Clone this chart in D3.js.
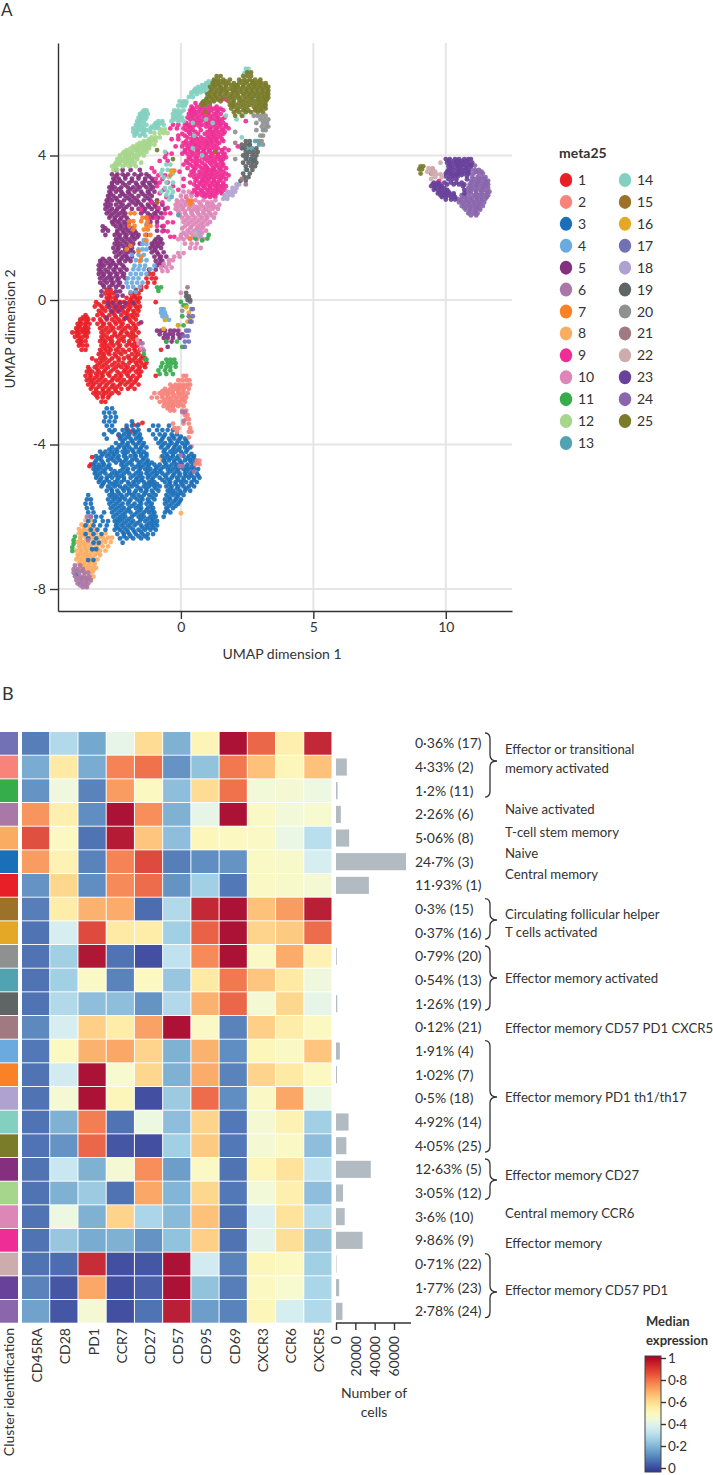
<!DOCTYPE html>
<html>
<head>
<meta charset="utf-8">
<script src="https://cdnjs.cloudflare.com/ajax/libs/d3/7.8.5/d3.min.js"></script>
<style>
body { margin: 0; background: #fff; }
text { font-family: Lato, "Open Sans", sans-serif; fill: #333; }
</style>
</head>
<body>
<script>
// ---- panel A: meta25 clusters, colours as in the legend
const clusterIds = d3.range(1, 26);
const clusterColors = ["#e81f27","#f7837b","#1a6fb9","#6aaade","#84307f","#aa78a6","#f98126","#fbac63","#ee2e96","#dd87b9","#34ad4a","#a6d68c","#52a3b2","#83d0c0","#9c7128","#e5a826","#7371b6","#b0a2d0","#5f6464","#8f9090","#a07a80","#cdacae","#68419a","#8a66ad","#7a7c2a"];
const xTicks = [0, 5, 10];
const yTicks = [-8, -4, 0, 4];

// points, one row per line: [umap2, umap1, umap1, ...]
const cluster1 = [
[0.72,-1.2,-1.05],[0.6,-1.3,-1.1,-0.95],[0.48,-1.25,-1.0],[0.36,-1.5,-1.3],[0.28,-2.8,-2.65,-1.7,-1.5],
[0.18,-2.85,-2.7,-2.55,-1.9,-1.75,-1.6],[0.06,-2.8,-2.65,-2.5,-2.05,-1.85,-1.7,-1.55],[-0.06,-3.2,-2.9,-2.6,-2.3,-2.15,-1.95,-1.8,-1.6,-0.95],
[-0.18,-3.25,-3,-2.8,-2.55,-2.3,-2.1,-1.9,-1.7,-1.55],[-0.3,-3.1,-2.85,-2.65,-2.4,-2.2,-2,-1.8,-1.6],[-0.42,-3.6,-3.15,-2.95,-2.7,-2.5,-2.25,-2,-1.85,-1.65],
[-0.54,-3.8,-3.65,-3.5,-3.3,-3.05,-2.8,-2.6,-2.35,-2.15,-1.95,-1.7],[-0.66,-3.9,-3.75,-3.6,-3.45,-3.15,-2.9,-2.7,-2.45,-2.2,-1.8,-1.6],[-0.78,-3.95,-3.8,-3.65,-3.5,-3.05,-2.8,-2.55,-2.35,-2.1,-1.9,-1.7],
[-0.9,-4.1,-3.95,-3.8,-3.65,-3.5,-3,-2.75,-2.5,-2.25,-2.05,-1.85,-1.6],[-1.02,-4,-3.85,-3.7,-3.55,-3,-2.8,-2.6,-2.4,-2.15,-1.9,-1.7],[-1.14,-3.9,-3.75,-3.6,-3.05,-2.85,-2.6,-2.35,-2.15,-1.95,-1.7,-1.55],
[-1.26,-3.85,-3.7,-3.55,-3,-2.8,-2.55,-2.3,-2.05,-1.85,-1.65],[-1.38,-3.75,-3.6,-3.05,-2.85,-2.65,-2.45,-2.2,-1.95,-1.75,-1.55,-0.75],[-1.5,-3.1,-2.9,-2.7,-2.5,-2.25,-1.85,-1.6],
[-1.62,-3.35,-3.05,-2.85,-2.6,-2.35,-2.15,-1.95,-1.75,-1.5,-1.35],[-1.74,-3.05,-2.8,-2.5,-2.2,-1.95,-1.7,-1.5,-1.3],[-1.86,-3.5,-3.25,-3,-2.75,-2.45,-2.25,-2,-1.8,-1.55,-1.35],
[-1.98,-3.55,-3.35,-3.1,-2.9,-2.65,-2.4,-2.15,-1.95,-1.7,-1.5],[-2.1,-3.6,-3.4,-3.15,-2.95,-2.7,-2.45,-2.25,-2,-1.8,-1.55,-0.95],[-2.22,-3.55,-3.35,-3.1,-2.85,-2.6,-2.4,-2.15,-1.9,-1.7],
[-2.34,-3.5,-3.3,-3.05,-2.8,-2.55,-2.3,-2.1,-1.85,-1.6],[-2.46,-3.4,-3.2,-2.95,-2.7,-2.5,-2.25,-2,-1.75],[-2.58,-3.3,-3.1,-2.85,-2.6,-2.35],
[-2.7,-3.15,-2.95,-2.75],[-2.82,-3,-2.85],[-3.55,-2.05],[-3.45,-1.8,-1.6],[-3.65,-1.9,-1.75],[-3.75,-2.35],[-4.35,-3.35],[-4.55,-3.4],[-4.6,-3.45],[-3.4,-1.45],
[0.12,-2.7,-1.75],[0,-2.75,-2.45,-1.9,-1.65],[-0.12,-3.1,-2.7,-2.4,-2,-1.75],[-0.24,-2.95,-2.5,-2.3,-1.95,-1.65],[-0.36,-3,-2.55,-2.1,-1.75],[-0.48,-3.7,-3.55,-2.85,-2.45,-2.05,-1.8],[-0.6,-3.8,-3.55,-3,-2.5,-2.3,-1.9],[-0.72,-3.85,-3.6,-2.95,-2.65,-2.25,-2,-1.75],
[-0.84,-3.9,-3.7,-3.55,-2.9,-2.65,-2.2,-1.75],[-0.96,-3.9,-3.6,-2.9,-2.5,-2.3,-2,-1.8],[-1.08,-3.8,-2.95,-2.7,-2.25,-1.8],[-1.2,-3.8,-2.9,-2.65,-2.4,-1.95,-1.75],[-1.32,-2.9,-2.7,-2.35,-1.75],[-1.44,-3,-2.75,-2.35,-2.1,-1.7],[-1.56,-2.95,-2.45,-2,-1.7,-1.45],[-1.68,-3.2,-2.95,-2.7,-2.35,-1.85,-1.6],
[-1.8,-3.15,-2.9,-2.6,-2.35,-2.1,-1.65,-1.4],[-1.92,-3.45,-3.15,-2.85,-2.55,-2.1,-1.85,-1.6],[-2.04,-3.45,-3.2,-3,-2.75,-2.3,-2.05,-1.6],[-2.16,-3.45,-3.25,-3,-2.55,-2.3,-1.9,-1.65],[-2.28,-3.4,-3.2,-2.95,-2.7,-2.25,-2,-1.75],[-2.4,-3.35,-3.1,-2.85,-2.6,-2.4,-1.9],[-2.52,-3.2,-2.95,-2.75,-2.45],[-2.64,-3.2,-2.95,-2.7]
];
const cluster2 = [
[-2.1,0.1,0.2],[-2.22,-0.1,0.05,0.2,0.32],[-2.34,-0.4,-0.2,-0.05,0.1,0.25,0.35],[-2.46,-0.6,-0.4,-0.2,-0.05,0.1,0.3],[-2.58,-1,-0.8,-0.6,-0.45,-0.3,-0.1,0.05,0.25],
[-2.7,-1.1,-0.9,-0.7,-0.5,-0.35,-0.15,0.05,0.2],[-2.82,-0.8,-0.65,-0.45,-0.3,-0.1,0.15],[-2.94,-0.65,-0.45,-0.3,-0.1,0.1],[-3.06,-0.4,-0.25,0.05,0.2],[-3.18,0.15,0.25],
[-3.3,0.2,0.3],[-3.42,-0.3,0.1,0.3],[-3.55,-0.25,-0.1,0.35],[-3.65,-0.15,0.3,0.4],[-3.8,0.3],[-4.45,0.6,0.7],[-4.55,0.55,0.7],
[-2.4,-0.3,-0.1,0.05,0.2],[-2.52,-0.7,-0.5,-0.3,-0.1,0.1],[-2.64,-0.7,-0.5,-0.25,-0.05,0.15],[-2.76,-0.6,-0.4,-0.2,0,0.1],[-2.88,-0.55,-0.35,-0.2,0],[-3,-0.5,-0.3]
];
const cluster3 = [
[-3,-2.8,-2.6],[-3.12,-2.9,-2.7,-2.5],[-3.24,-2.85,-2.65,-2.45],[-3.36,-2.9,-2.7,-2.5,-1.85],[-3.48,-2.8,-2.6,-2.05,-1.85,-1.65,-1.05,-0.85,-0.45],
[-3.6,-2.7,-2.5,-2.2,-2,-1.8,-1.6,-1.2,-0.9,-0.7,-0.5,-0.3],[-3.72,-2.9,-2.35,-2.15,-1.95,-1.75,-1.55,-1.05,-0.8,-0.6,-0.35,-0.15],[-3.84,-2.8,-2.3,-2.1,-1.9,-1.7,-1.5,-0.95,-0.7,-0.45,-0.25,-0.05,0.15],
[-3.96,-2.45,-2.2,-2,-1.8,-1.6,-1.4,-0.85,-0.6,-0.35,-0.15,0.05,0.25],[-4.08,-2.6,-2.35,-2.15,-1.95,-1.7,-1.5,-1.3,-0.75,-0.5,-0.25,-0.05,0.15,0.35],[-4.2,-3.05,-2.85,-2.6,-2.4,-2.2,-2,-1.8,-1.6,-1.4,-0.65,-0.4,-0.2,0,0.2],
[-4.32,-3.2,-3,-2.8,-2.55,-2.35,-2.15,-1.9,-1.7,-1.5,-1.3,-0.7,-0.5,-0.3,-0.1,0.1,0.3,0.5],[-4.44,-3.2,-3,-2.75,-2.55,-2.3,-2.1,-1.85,-1.65,-1.45,-1.25,-0.65,-0.45,-0.25,-0.05,0.15,0.35,0.55],
[-4.56,-3.3,-3.1,-2.9,-2.7,-2.25,-2.05,-1.85,-1.6,-1.4,-1.2,-1,-0.8,-0.55,-0.35,-0.15,0.05,0.25,0.5],[-4.68,-3.3,-3.1,-2.85,-2.65,-2.2,-2,-1.8,-1.55,-1.35,-1.15,-0.95,-0.75,-0.5,-0.3,-0.1,0.1,0.3,0.5,0.65],
[-4.8,-3.25,-3.05,-2.85,-2.6,-2.4,-2.15,-1.95,-1.7,-1.5,-1.3,-1.1,-0.9,-0.7,-0.5,-0.25,-0.05,0.15,0.35,0.6],[-4.92,-3.2,-3,-2.8,-2.6,-2.35,-2.15,-1.9,-1.65,-1.45,-1.25,-1.05,-0.8,-0.55,-0.35,-0.15,0.1,0.3,0.5,0.7],
[-5.04,-3.1,-2.9,-2.7,-2.5,-2.25,-2,-1.8,-1.6,-1.4,-1.2,-1,-0.6,-0.4,-0.2,0,0.2,0.4,0.6],[-5.16,-3,-2.75,-2.5,-2.3,-2.1,-1.85,-1.65,-1.4,-1.2,-1,-0.8,-0.55,-0.35,-0.1,0.1,0.3,0.5],
[-5.28,-2.8,-2.6,-2.4,-2.15,-1.95,-1.7,-1.5,-1.3,-1.1,-0.85,-0.5,-0.3,-0.05,0.15,0.35],[-5.4,-3.5,-2.7,-2.5,-2.25,-2.05,-1.85,-1.6,-1.4,-1.2,-0.95,-0.55,-0.3,-0.1,0.1],
[-5.52,-3.55,-3.4,-2.75,-2.5,-2.3,-2.1,-1.9,-1.65,-1.45,-1.25,-1,-0.6,-0.4,-0.2,0],[-5.64,-3.6,-3.4,-2.7,-2.45,-2.2,-2,-1.75,-1.5,-1.3,-1.1,-0.6,-0.35,-0.1],
[-5.76,-3.55,-3.35,-2.65,-2.4,-2.15,-1.95,-1.7,-1.5,-1.25,-1.05,-0.55,-0.3],[-5.88,-3.5,-3.3,-2.9,-2.6,-2.35,-2.1,-1.9,-1.65,-1.4,-1.2,-1,-0.6,-0.4],
[-6,-3.4,-3.2,-3,-2.55,-2.3,-2.1,-1.85,-1.6,-1.4,-1.15,-0.95,-0.65],[-6.12,-3.5,-3.25,-2.95,-2.75,-2.5,-2.3,-2.05,-1.8,-1.55,-1.35,-1.1,-0.9],[-6.24,-3.6,-3.3,-3.05,-2.8,-2.45,-2.25,-2,-1.75,-1.5,-1.3,-1.1,-0.9],
[-6.36,-3.4,-3.15,-2.85,-2.5,-2.3,-2.05,-1.8,-1.6,-1.35,-1.15,-0.95],[-6.48,-3.6,-3.3,-3,-2.4,-2.15,-1.95,-1.7,-1.45,-1.25,-1.05],[-6.6,-3.5,-3.2,-2.3,-2.05,-1.8,-1.5,-1.25],
[-6.72,-3.3,-3.1,-2.2],[-6.9,-3.35,-3.2],[-7.2,-3.5,-3.3],[-7.6,-3.95],
[-3.66,-2.6,-2.05,-1.7],[-3.78,-2.25,-2,-1.6,-0.65,-0.3,0],[-3.9,-2.2,-1.85,-1.55,-0.75,-0.4,-0.1,0.2],[-4.02,-2.3,-2.05,-1.7,-1.45,-0.7,-0.45,-0.2,0.15],[-4.14,-2.7,-2.45,-2.1,-1.85,-1.55,-0.6,-0.3,-0.1,0.25],[-4.26,-2.95,-2.7,-2.5,-2.1,-1.75,-1.5,-1.3,-0.55,-0.3,0.05,0.4],
[-4.38,-3.1,-2.65,-2.4,-2.05,-1.75,-1.4,-0.6,-0.4,-0.15,0.25,0.45],[-4.5,-3.25,-2.95,-2.45,-2.2,-1.95,-1.55,-1.3,-1.1,-0.6,-0.25,0,0.4,0.6],[-4.62,-3.2,-3,-2.75,-2.15,-1.7,-1.5,-1.25,-0.9,-0.65,-0.45,-0.2,0,0.2,0.4],[-4.74,-3.2,-2.95,-2.5,-2.3,-2.05,-1.6,-1.25,-1,-0.8,-0.4,-0.15,0.2,0.45],
[-4.86,-3.15,-2.7,-2.45,-2.25,-1.8,-1.55,-1.2,-0.95,-0.6,-0.3,-0.05,0.2,0.4,0.65],[-4.98,-3.05,-2.8,-2.4,-2.15,-1.7,-1.5,-1.1,-0.7,-0.45,-0.1,0.1,0.5],[-5.1,-2.95,-2.6,-2.4,-1.95,-1.75,-1.3,-1.1,-0.9,-0.45,-0.2,0.05,0.4],[-5.22,-2.65,-2.2,-2,-1.55,-1.3,-0.95,-0.4,-0.15,0.2],[-5.34,-2.6,-2.35,-1.95,-1.75,-1.35,-1.05,-0.4,-0.2,0],
[-5.46,-2.6,-2.4,-2.2,-1.75,-1.5,-1.1,-0.45,-0.15],[-5.58,-2.6,-2.35,-1.95,-1.55,-1.2,-0.5,-0.25,-0.05],[-5.7,-2.55,-2.3,-1.85,-1.6,-1.15,-0.45,-0.2],[-5.82,-2.5,-2.25,-2,-1.55,-1.3,-1.1,-0.5],[-5.94,-2.45,-2.2,-1.75,-1.5,-1.05],[-6.06,-2.4,-2.2,-1.95,-1.5,-1.25,-1.05],[-6.18,-2.4,-2.15,-1.9,-1.65,-1.2,-1],[-6.3,-2.4,-2.15,-1.9,-1.45,-1.25,-1.05],[-6.42,-2.2,-2,-1.75,-1.5],[-6.54,-2.15,-1.9,-1.6,-1.35]
];
const cluster4 = [
[1.66,-1.4],[1.55,-1.45,-1.3],[1.4,-1.6,-1.45,-1.3],[1.25,-1.85,-1.6,-1.4],[1.1,-1.7,-1.5,-1.3],[0.95,-1.75,-1.55,-1.35,-1],[0.85,-1.8,-1.6,-1.4,-1.15],[0.72,-1.9,-1.7,-1.5,-1.3],
[0.6,-2,-1.8,-1.6],[0.48,-2.05,-1.85,-1.65,-1.45],[0.36,-2,-1.8,-1.55],[0.22,-1.9,-1.7],[-0.25,-0.75,-0.65],[-0.35,-0.75,-0.6],[-0.45,-0.7,-0.55],[-0.55,-0.6,-0.45],[2.1,-1.3],[2.85,-0.35]
];
const cluster5 = [
[3.6,-2.45,-2.2,-1.9,-1.55],[3.48,-2.6,-2.4,-2.2,-2,-1.75,-1.5,-1.3],[3.36,-2.55,-2.35,-2.1,-1.85,-1.6,-1.35,-1.1],[3.24,-2.6,-2.4,-2.2,-1.95,-1.7,-1.45,-1.2,-0.95],[3.12,-2.7,-2.5,-2.25,-2,-1.8,-1.55,-1.3,-1.05],
[3,-2.7,-2.45,-2.25,-2,-1.75,-1.5,-1.25,-1],[2.88,-2.75,-2.55,-2.3,-2.1,-1.85,-1.6,-1.35,-1.1],[2.76,-2.8,-2.6,-2.4,-2.15,-1.9,-1.65,-1.4,-1.15,-0.9],[2.64,-2.85,-2.65,-2.45,-2.2,-1.95,-1.7,-1.5,-1.25,-1,-0.7],
[2.52,-2.85,-2.6,-2.4,-2.15,-1.85,-1.6,-1.35,-1.1,-0.85,-0.6],[2.4,-2.8,-2.55,-2.3,-2.1,-1.5,-1.25,-1,-0.75],[2.28,-2.7,-2.5,-2.25,-2.05,-1.3,-1.05,-0.85],[2.16,-2.6,-2.4,-2.15,-1.95,-1.15,-0.9],
[2.04,-2.95,-2.45,-2.25,-2,-0.7],[1.92,-2.95,-2.75,-2.4,-2.2,-2,-1.75,-0.9,-0.65],[1.8,-2.85,-2.5,-2.3,-2.05,-1.8,-1.6,-1.3],[1.68,-2.45,-2.25,-2,-1.75,-0.95,-0.75],[1.56,-2.5,-2.3,-2.05,-1.8,-1.55,-1.1,-0.9,-0.7],
[1.44,-2.55,-2.35,-2.1,-1.85,-1.15,-0.95,-0.75],[1.32,-2.5,-2.25,-2,-1.8,-1.1,-0.9,-0.65],[1.2,-2.45,-2.2,-2.05,-1.85,-1.0,-0.75,-0.55],[1.08,-3.05,-2.85,-2.6,-2.35,-2.1,-1.9,-0.95,-0.7],[0.96,-3.1,-2.9,-2.65,-2.45,-2.2,-0.9,-0.7],
[0.84,-3.1,-2.85,-2.55,-2.3,-2.05,-1.2,-0.95],[0.72,-3.1,-2.9,-2.65,-2.4,-2.15],[0.6,-3.05,-2.8,-2.6,-2.35,-2.1],[0.48,-3.05,-2.8,-2.55,-2.3],[0.36,-2.9,-2.7,-2.45,-2.2],[0.24,-3,-2.45,-2.3],[0.12,-3,-2.4,-2.2],
[-0.08,-2.75,-2.55,-2.3,-2.1,-1.8],[-0.2,-2.7,-2.45,-2.2],[-0.32,-2.6,-2.35],[-0.5,-2.8,-2.1],[-0.62,-1.5],[-0.85,-0.9,-0.75,-0.6,-0.4,-0.25,-0.1],[-0.95,-0.8,-0.6,-0.45,-0.3,-0.1,0.05],[-1.05,-0.65,-0.5,-0.3,-0.05],[-1.15,-0.55,-0.35],[-1.3,-0.5],
[3.42,-2.45,-2.1,-1.6,-1.2],[3.3,-2.5,-2.3,-1.85,-1.35,-1.05],[3.18,-2.6,-2.1,-1.65,-1.4,-1.15],[3.06,-2.6,-2.35,-1.9,-1.65,-1.15],[2.94,-2.65,-2.2,-1.95,-1.45,-1.2],[2.82,-2.7,-2.45,-2,-1.75,-1.25],[2.7,-2.75,-2.3,-1.8,-1.6,-1.1],[2.58,-2.75,-2.3,-2.05,-1.45,-1.2,-0.95],[2.46,-2.7,-2.45,-2.2,-1.4,-0.9],[2.34,-2.65,-2.4,-2.15,-1.15,-0.95],[2.22,-2.5,-2.3,-2,-1.2],
[2.1,-2.55,-2.3,-2.1],[1.98,-2.85,-2.3,-2.1,-1.85],[1.86,-2.4,-2.15,-1.9,-1.7],[1.74,-2.35,-2.1,-1.85,-1.65,-0.85],[1.62,-2.4,-2.15,-1.9,-1.0,-0.8],[1.5,-2.4,-2.2,-1.95,-1.05,-0.85],[1.38,-2.4,-2.1,-1.9,-1],[1.26,-2.35,-2.1,-0.85],[1.14,-2.95,-2.7,-2.25,-2,-0.8],[1.02,-3,-2.75,-2.55,-2.3,-0.8],[0.9,-3,-2.7,-2.45,-2.15],[0.78,-3,-2.75,-2.5,-2.25],[0.66,-2.95,-2.7,-2.45,-2.2],[0.54,-2.9,-2.65,-2.4],[0.42,-2.95,-2.6,-2.35]
];
const cluster6 = [
[-7.35,-4,-3.8],[-7.45,-4.05,-3.9,-3.7],[-7.55,-4.05,-3.85,-3.65,-3.5],[-7.65,-4,-3.8,-3.65,-3.45],[-7.75,-3.95,-3.75,-3.55,-3.4],[-7.85,-3.9,-3.7,-3.5],[-7.95,-3.7,-3.55],
[-6,-3.55,-3.4],[-6.65,-3.5],[-4.3,0],[-4.6,-0.05,0.05],[-4.75,0.5],[-1.2,-1.5,-1.45],[-1.4,-1.4],[-3.1,0.05,0.15],[-3.35,0.1],
[-7.5,-3.95,-3.75],[-7.7,-3.85,-3.7,-3.55],[-7.8,-3.8,-3.6],[-7.9,-3.8,-3.6]
];
const cluster7 = [
[2.4,-1.9,-1.75],[2.28,-1.45,-1.3],[2.18,-1.95,-1.8,-1.5,-1.25],[2.05,-1.95,-1.75,-1.3,-1.15],[1.95,-1.8,-1.4,-1.25],[1.8,-1.35,-1.15],[1.65,-1.3],[1.08,-1.55],[1.5,-1.9],[1.4,-2.05],[3.58,-0.35,-0.25],[3.45,-0.4],[2.75,0.3,0.4],[2.65,0.35],[1.7,0.35],[1.35,-1.6],[1.2,-1.5]
];
const cluster8 = [
[-6.1,-3.6,-3.4],[-6.22,-3.75,-3.55,-3.35],[-6.34,-3.85,-3.65,-3.45,-3.25],[-6.46,-3.85,-3.7,-3.5,-3.2,-2.85],[-6.58,-3.8,-3.6,-3.4,-3.1,-2.95,-2.75,-2.6],[-6.7,-3.9,-3.7,-3.5,-3.25,-3,-2.85,-2.65],[-6.82,-3.85,-3.65,-3.45,-3.2,-2.95,-2.75],[-6.94,-3.95,-3.75,-3.55,-3.3,-3.05,-2.85],
[-7.06,-3.9,-3.7,-3.5,-3.25,-3.05],[-7.18,-3.95,-3.75,-3.55,-3.3,-3.15],[-7.3,-3.85,-3.65,-3.45,-3.25],[-7.42,-3.8,-3.6,-3.4,-3.2],[-7.54,-3.6,-3.35],[-7.66,-3.5,-3.3],[-7.78,-3.4],[-6.35,-2.35],[-4.35,-0.75],[-4.45,-0.7],[-5.05,-1.15],[-5.9,0],
[-6.28,-3.65,-3.45],[-6.4,-3.75,-3.55,-3.35],[-6.52,-3.75,-3.6,-3.35],[-6.64,-3.8,-3.55,-3.3,-2.85],[-6.76,-3.8,-3.6,-3.35,-3.1],[-6.88,-3.8,-3.6,-3.4,-3.15],[-7,-3.8,-3.6,-3.4,-3.15],[-7.12,-3.85,-3.6,-3.4],[-7.24,-3.8,-3.6,-3.4],[-7.36,-3.7,-3.5,-3.3],[-7.48,-3.7,-3.5,-3.3]
];
const cluster9 = [
[5.45,0.55,0.8],[5.35,0.4,0.6,0.85,1.1,1.35],[5.25,0.35,0.5,0.7,0.9,1.15,1.4,1.6],[5.15,0.3,0.5,0.75,1,1.25,1.5],[5.05,0.25,0.45,0.7,0.95,1.2,1.4,1.65],[4.95,0.5,0.75,1,1.25,1.45],[4.85,-0.3,-0.1,0.15,0.3,0.55,0.8,1.05,1.3,1.5,1.7],
[4.75,-0.4,-0.15,0.1,0.35,1.1,1.35,1.6,1.8],[4.65,0.3,0.55,1,1.2,1.45,1.65],[4.55,-0.1,0.15,0.45,1.05,1.25,1.5],[4.45,-0.35,-0.1,0.4,0.6,0.85,1.1,1.3,1.55],[4.35,0.1,0.35,0.55,0.8,1,1.2,1.45],[4.25,-0.2,0.05,0.3,0.55,0.75,1,1.25],
[4.15,0.15,0.35,0.6,0.85,1.05,1.3,1.55,1.8],[4.05,-0.55,-0.35,0.05,0.25,0.5,0.75,0.95,1.2,1.4,1.65],[3.95,-0.6,0.3,0.55,0.8,1.05,1.3,1.5,1.7],[3.85,-0.8,-0.5,0.2,0.45,0.7,1,1.25,1.5],[3.75,0.1,0.35,0.6,0.9,1.15,1.4,1.6],
[3.65,-1.1,0.25,0.55,0.8,1,1.2,1.45,1.7],[3.55,-1,-0.05,0.4,0.7,0.95,1.15,1.35,1.6],[3.45,-0.85,-0.6,0.35,0.65,0.9,1.1,1.3,1.55,1.8],[3.35,-0.95,-0.7,0.1,0.6,0.85,1.05,1.25,1.5,1.7],[3.25,-0.8,-0.5,0.35,0.7,0.9,1.15,1.35,1.6],[3.15,-0.9,-0.3,0.1,0.6,0.85,1.1,1.3,1.5,1.7],
[3.05,-0.65,-0.1,0.5,0.75,1,1.2,1.4,1.65],[2.95,-0.8,0.4,0.65,0.9,1.15,1.35,1.55],[2.85,-0.55,0.2,0.9,1.1,1.3],[2.7,-1.1,-0.9,-0.7],[2.55,-0.85,-0.5],[2.4,-0.6,-0.4],[2.28,-1.2,-0.95,-0.7],[2.15,-0.5,-0.3],[2.05,-0.9,-0.65],[1.9,-0.7,-0.5],[1.75,-0.4,-0.25],[2.5,-1.5],[5.55,1.55,1.7],[5.4,1.95],[4.95,2.45],[4.25,2.15],
[3.62,9.5],[3.5,9.45],[3.3,9.75],
[5.3,0.45,0.75,1,1.25,1.5],[5.2,0.4,0.6,0.85,1.05,1.35],[5.1,0.4,0.6,0.85,1.1,1.35],[5,0.35,0.6,0.85,1.1,1.35,1.55],[4.9,0.2,0.4,0.65,0.95,1.15,1.4,1.6],[4.8,0.25,0.45,0.7,0.95,1.2,1.45,1.7],[4.7,0.2,0.45,0.75,1.1,1.3,1.55],[4.6,0.05,0.35,0.65,0.9,1.15,1.35,1.6],[4.5,0.25,0.55,0.75,1,1.2,1.4],[4.4,0.2,0.45,0.7,0.95,1.15,1.35,1.6],[4.3,0.2,0.45,0.65,0.9,1.1,1.35],[4.2,0.25,0.45,0.7,0.9,1.15,1.4,1.65],
[4.1,0.15,0.4,0.65,0.85,1.1,1.3,1.55],[4,0.4,0.65,0.9,1.15,1.4,1.6],[3.9,0.35,0.6,0.9,1.15,1.4,1.6],[3.8,0.25,0.55,0.8,1.1,1.3,1.55],[3.7,0.45,0.7,0.95,1.3,1.55],[3.6,0.5,0.85,1.05,1.25,1.5],[3.5,0.5,0.8,1,1.2,1.45,1.7],[3.4,0.5,0.75,0.95,1.15,1.4,1.6],[3.3,0.55,0.8,1,1.25,1.45],[3.2,0.5,0.75,1,1.2,1.4,1.6],[3.1,0.65,0.9,1.1,1.35,1.55],[3,0.55,0.8,1.05,1.3,1.5],[2.9,0.6,0.8,1,1.2]
];
const cluster10 = [
[3,0.1,0.3],[2.88,0,0.2,0.4],[2.76,-0.15,0.05,0.25,0.55,0.85,1.3],[2.64,-0.2,0,0.2,0.45,0.75,1,1.2,1.45],[2.52,-0.2,0.05,0.3,0.5,0.7,0.95,1.2,1.4],[2.4,-0.05,0.15,0.4,0.65,0.85,1.1,1.3],[2.28,0.05,0.3,0.55,0.8,1,1.25],
[2.16,0.1,0.35,0.6,0.85,1.1],[2.04,0.15,0.4,0.65,0.85],[1.92,0.25,0.5,0.7,0.95],[1.8,0,0.2,0.45,0.7],[1.68,-0.1,0.1,0.35,0.6,0.85],[1.56,0.15,0.4,0.6],[1.44,0.35,0.55,0.75],[1.3,-0.1,0.1],[1.2,-0.25,-0.05],[1.1,-0.45,-0.3],[1.0,-0.65,-0.45],[0.9,-0.75,-0.55,-0.35],[0.8,-0.7,-0.5],[0.2,0],[-1.2,-1.6],[-1.35,-1.5,-1.45],[-4.05,0.4],
[2.7,-0.1,0.15,0.4,0.7,1,1.15],[2.58,-0.1,0.1,0.35,0.6,0.85,1.1,1.3],[2.46,-0.1,0.15,0.4,0.6,0.85,1.05],[2.34,-0.05,0.2,0.45,0.7,0.95,1.15],[2.22,0.2,0.45,0.7,0.95],[2.1,0.25,0.5,0.75,1],[1.98,0.05,0.35,0.6,0.8],[1.86,0.1,0.35,0.6,0.8],[1.74,0,0.25,0.5,0.75]
];
const cluster11 = [
[0.35,-0.9,-0.75],[0.25,-0.85],[-0.05,0],[-0.15,0.1,0.2],[-0.45,0.05],[-0.7,-0.1,0.1],[-1.15,-0.55,-0.15],[-1.3,0.05],[-1.65,-0.55,-0.4,-0.25],[-1.75,-0.7,-0.5,-0.35,-0.2],[-1.85,-0.75,-0.55,-0.4,-0.2],[-1.95,-0.85,-0.6,-0.4],[-2.05,-0.8,-0.55,-0.3],[-1.5,-1.4],[-1.65,-1.35,-1.3],[-6.55,-4],[-6.65,-4.05],[-6.75,-4.05],[-6.85,-4.1],[-6.95,-4.1],[1.7,1],[1.65,0.8],[1.8,1.05],[1.7,0.55]
];
const cluster12 = [
[4.72,-0.75,-0.6],[4.62,-1,-0.8,-0.65,-0.5],[4.5,-1.1,-0.95,-0.8],[4.4,-1.4,-1.25,-1.1,-0.95],[4.3,-1.65,-1.45,-1.3,-1.15,-1],[4.2,-1.9,-1.7,-1.55,-1.35,-1.2],[4.1,-2.15,-2,-1.85,-1.65,-1.45,-1.3],[4,-2.3,-2.1,-1.95,-1.75,-1.6,-1.4],[3.9,-2.4,-2.2,-2.05,-1.85,-1.65],[3.8,-2.45,-2.3,-2.1,-1.95,-1.75,-1.5],[3.7,-2.6,-2.45,-2.2,-1.95,-1.7],[3.6,-2.55,-2.4],
[4.45,-1.2,-1],[4.35,-1.55,-1.35,-1.2],[4.25,-1.8,-1.6,-1.45,-1.25],[4.15,-2.05,-1.75,-1.6,-1.4],[4.05,-2.2,-2.05,-1.85,-1.55],[3.95,-2.3,-2.1,-1.95,-1.75],[3.85,-2.35,-2.2,-2,-1.85],[3.75,-2.5,-2.35,-2.1,-1.85]
];
const cluster13 = [
[4.4,2.8,2.9],[4.3,2.6,2.95],[4.2,2.55,2.7],[3.9,2.55],[3.6,2.45],[3.85,2.75],[2.35,-0.1]
];
const cluster14 = [
[6.4,2.45,2.55],[6.28,2.4,2.55],[6.05,1.05,1.2],[5.95,0.8,0.95,1.1,1.3],[5.85,0.55,0.75,0.9,1.05],[5.75,0.4,0.55,0.75,0.95],[5.62,0.3,0.45],[5.5,-0.05,0.1,0.2],[5.38,-0.1,0.05,0.15],[5.25,-1.4,-1.3,-0.25,-0.1,0.1],[5.15,-1.55,-1.4,-1.25,-0.3,-0.1],
[5.05,-1.6,-1.45,-1.3,-0.3,-0.15,0.05],[4.95,-1.65,-1.5,-0.85,-0.7,-0.35,-0.1,0.1],[4.85,-1.7,-1.55,-1.3,-1,-0.85,-0.65],[4.75,-1.8,-1.6,-1.4,-1.15,-1,-0.85],[4.65,-1.8,-1.65,-1.4,-1.15],[4.55,-1.75,-1.55,-1.35],[5.1,1.7,2.35],[5,2.1],[4.1,-0.6],[3.75,-0.55,-0.4],[3.6,-0.7,-0.5],[3.5,-0.75,-0.3],[3.4,-0.65,-0.45],[3.25,-0.55,-0.3],[3.1,-0.6,-0.4],[3,-0.75,-0.5,-0.3],[2.9,-0.55,-0.35],[2.78,-0.45],[4.55,0.5],[4.2,0.45],[5,0.95],[4.9,1.2,0.45],[4,0.8],[4.5,2.3],[5.6,2.75],
[6,0.95,1.2],[5.9,0.65,0.85,1.05],[5.8,0.5,0.65,0.85],[5.7,0.4,0.6],[5.45,0.05,0.2],[5.2,-1.45,-1.3,-0.2,0],[5.1,-1.5,-1.35,-0.2,-0.05],[5,-1.55,-1.35,-0.25,-0.05],[4.9,-1.6,-1.4,-0.95,-0.75],[4.8,-1.65,-1.45,-1.1,-0.9],[4.7,-1.7,-1.5,-1.3],[4.6,-1.7,-1.45]
];
const cluster15 = [[5.2,0.95],[2.7,-0.9],[4.1,1.3]];
const cluster16 = [[-0.35,0.3],[-0.5,0.35],[-0.2,0.2],[-0.55,-0.6],[-0.7,-0.1],[-0.6,0.25],[-0.8,-0.65],[3.55,-0.35]];
const cluster17 = [[-0.05,0.35],[-0.25,0.4,0.45],[-0.45,0.45,0.3],[-0.6,0.35,0.4],[-0.85,0.2,0.3],[-1,0.1,0.25],[-1.15,0.15,0.3],[-1.3,0.15]];
const cluster18 = [
[3.2,2.1,2.2],[3.1,1.95,2.1],[3,1.75,1.9,2.05],[2.9,1.65,1.8,1.95],[2.8,1.6,1.75],[1.9,0.6],[1.8,0.7,0.55]
];
const cluster19 = [
[4.4,2.45,2.6],[4.3,2.3,2.45,2.6],[4.2,2.3,2.4,2.85],[4.1,2.45,2.6,2.75,2.9],[4,2.35,2.5,2.7,2.85],[3.9,2.45,2.65,2.8],[3.8,2.35,2.55,2.7,2.85],[3.7,2.45,2.65,2.8],[3.6,2.5,2.7],[3.5,2.35,2.6],[3.4,2.4,2.55],[3.3,2.25,2.45],[0.2,0.2],[0.1,0.2,0.3],[0,0.25,0.35]
];
const cluster20 = [
[5.1,2.75,2.9,3.05,3.2],[5,3,3.15,3.3],[4.9,2.85,3.1,3.25],[4.8,3.05,3.2,3.3],[4.7,2.85,3.1,3.2],[4.55,3,3.1],[4.4,3.05,2.95],[4.3,3.1],[3.9,2.05],[4.65,2.05],[-0.3,0.05]
];
const cluster21 = [[3.35,2.3],[3.2,2.45],[0.35,0.25],[4.35,2.05]];
const cluster22 = [
[3.8,9.8],[3.65,9.35,9.5],[3.55,9.3,9.45,9.6],[3.48,9.5,9.65,9.8],[3.4,9.6,9.85],[3.35,9.45],[1.85,0.55],[-1.1,-1.65]
];
const cluster23 = [
[3.9,10,10.15,10.35,10.5,10.7,10.85,10.95],[3.8,10.05,10.2,10.4,10.55,10.7,10.85,11],[3.7,10.1,10.25,10.45,10.6,10.8,10.95],[3.6,10.1,10.3,10.5,10.7,10.85],[3.5,10,10.15,10.35,10.5,10.7,10.85],[3.42,10,10.15,10.3,10.45,10.8],[3.34,10.1,10.25,10.4,10.8],
[3.25,9.55,9.7,9.95,10.2,10.4,10.6],[3.15,9.45,9.6,9.75,9.85,10.65],[3.05,9.55,9.7,9.85,10.05,10.7],[2.95,9.7,9.85,10,10.15,10.3,10.7],[2.85,9.85,10,10.2,10.35],[2.78,10,10.2,10.35],
[3.85,10.1,10.3,10.45,10.6,10.8],[3.75,10.15,10.35,10.5,10.7,10.9],[3.65,10.2,10.4,10.55,10.75],[3.55,10.05,10.2,10.45,10.6,10.8],[3.46,10.25,10.4,10.6],[3.2,9.5,9.65,9.8,10.05,10.3,10.5,10.7],[3.1,9.6,9.8,9.95],[3,9.75,9.95,10.1],[2.9,9.8,9.95,10.1,10.3]
];
const cluster24 = [
[3.72,10.95,11.1],[3.6,10.95,11.1,11.25],[3.5,10.9,11.05,11.25,11.4],[3.4,11,11.2,11.35,11.5],[3.3,10.95,11.15,11.3,11.5,11.6],[3.2,10.9,11.1,11.25,11.45,11.6],[3.1,10.85,11,11.2,11.4,11.6],[3,10.8,10.95,11.15,11.35,11.55,11.65],
[2.9,10.6,10.75,11.05,11.25,11.45,11.6],[2.8,10.45,10.6,10.8,11,11.2,11.35,11.5],[2.7,10.5,10.65,10.85,11.05,11.25,11.45],[2.6,10.6,10.8,11,11.2,11.4],[2.5,10.75,10.95,11.15,11.3],[2.4,10.85,11.05,11.2],[2.34,10.95,11.15],
[3.55,11.15,11.35],[3.35,11.05,11.25,11.45],[3.25,11,11.2,11.4,11.55],[3.15,10.95,11.15,11.35,11.5],[3.05,10.9,11.1,11.3,11.45],[2.95,10.9,11.15,11.35,11.55],[2.85,10.7,10.9,11.15,11.35,11.55],[2.75,10.55,10.75,10.95,11.15,11.35],[2.65,10.7,10.9,11.1,11.3],[2.55,10.7,10.9,11.1,11.25],[2.45,10.9,11.1]
];
const cluster25 = [
[6.3,2.5,2.65],[6.2,1.35,1.5,2.35,2.5,2.65],[6.1,1.25,1.4,1.6,1.85,2.2,2.4,2.6,2.8,3],[6,1.2,1.4,1.6,1.8,2,2.2,2.45,2.7,2.85,3.05,3.2],[5.9,1.1,1.3,1.5,1.7,2,2.15,2.35,2.55,2.75,2.95,3.15,3.3],[5.8,1.15,1.35,1.55,1.7,1.95,2.1,2.3,2.5,2.7,2.9,3.1,3.3],
[5.7,1,1.25,1.45,1.65,1.9,2.1,2.35,2.55,2.75,2.95,3.15,3.3],[5.6,1,1.15,1.35,1.6,1.85,2.05,2.25,2.5,2.7,2.95,3.15,3.3],[5.5,0.85,1.05,1.25,1.5,1.8,2,2.3,2.55,2.8,3,3.2],[5.4,0.75,0.95,1.85,2.1,2.35,2.6,2.85,3.05,3.2],[5.3,1.9,2.15,2.4,2.85,3.05,3.2],[5.2,2,2.2,2.45,2.65,2.9,3.1],[5.1,2.05,2.3],
[3.7,9.05,9.15],[3.62,9,9.1],[3.5,9.05],[4.15,-0.9],[3.9,-0.3],
[6.05,1.3,1.5,1.7,2.3,2.5,2.7,2.95],[5.95,1.25,1.45,1.7,1.9,2.1,2.35,2.6,2.8,3,3.2],[5.85,1.2,1.45,1.6,1.85,2.05,2.25,2.45,2.65,2.85,3.05,3.25],[5.75,1.1,1.3,1.5,1.75,2,2.2,2.45,2.65,2.85,3.05,3.25],[5.65,1.1,1.3,1.5,1.75,1.95,2.15,2.4,2.6,2.85,3.05,3.25],[5.55,0.95,1.2,1.4,1.95,2.2,2.4,2.65,2.9,3.1,3.25],[5.45,0.9,1.1,1.95,2.2,2.45,2.7,2.95,3.15],[5.35,2,2.25,2.5,2.75,2.95,3.15],[5.25,2.1,2.35,2.55,2.8,3]
];
const clusterPoints = [cluster1,cluster2,cluster3,cluster4,cluster5,cluster6,cluster7,cluster8,cluster9,cluster10,cluster11,cluster12,cluster13,cluster14,cluster15,cluster16,cluster17,cluster18,cluster19,cluster20,cluster21,cluster22,cluster23,cluster24,cluster25];
const drawOrder = [8,1,5,9,10,3,2,14,12,25,24,23,6,4,7,11,13,15,16,17,18,19,20,21,22];

// ---- panel B: rows top to bottom, columns as in markers
const markers = ["CD45RA","CD28","PD1","CCR7","CD27","CD57","CD95","CD69","CXCR3","CCR6","CXCR5"];
const rowClusters = [17,2,11,6,8,3,1,15,16,20,13,19,21,4,7,18,14,25,5,12,10,9,22,23,24];
const rowPercents = ["0·36%","4·33%","1·2%","2·26%","5·06%","24·7%","11·93%","0·3%","0·37%","0·79%","0·54%","1·26%","0·12%","1·91%","1·02%","0·5%","4·92%","4·05%","12·63%","3·05%","3·6%","9·86%","0·71%","1·77%","2·78%"];
const rowCells = [0, 11200, 1600, 5000, 13600, 72400, 34000, 0, 0, 800, 0, 1300, 0, 4000, 1000, 0, 13000, 10700, 36000, 7300, 9000, 27500, 500, 3300, 6700];
const expression = [
[.1,.3,.18,.42,.61,.2,.53,1,.83,.55,.95],
[.19,.57,.19,.78,.81,.14,.24,.8,.67,.52,.67],
[.14,.45,.11,.74,.51,.23,.61,.81,.46,.47,.44],
[.75,.55,.13,1,.76,.2,.42,1,.5,.46,.48],
[.87,.51,.08,.98,.66,.23,.52,.51,.5,.43,.32],
[.74,.54,.11,.78,.88,.1,.13,.14,.5,.49,.38],
[.14,.62,.13,.77,.82,.14,.27,.09,.5,.49,.47],
[.1,.56,.7,.71,.07,.3,.95,1,.67,.74,.97],
[.08,.38,.88,.57,.56,.27,.84,1,.63,.65,.82],
[.08,.27,.99,.08,.02,.33,.77,1,.5,.71,.54],
[.08,.27,.5,.11,.51,.25,.57,.8,.66,.57,.45],
[.08,.3,.23,.23,.14,.3,.7,.83,.47,.62,.42],
[.12,.38,.64,.56,.73,1,.5,.11,.64,.56,.51],
[.09,.51,.7,.72,.63,.2,.7,.13,.52,.5,.66],
[.08,.37,1,.48,.62,.2,.71,.11,.63,.57,.51],
[.08,.47,1,.52,.02,.26,.82,.13,.5,.72,.44],
[.08,.2,.79,.08,.44,.23,.63,.09,.47,.54,.27],
[.08,.14,.83,.03,.02,.27,.65,.09,.47,.5,.23],
[.08,.35,.2,.47,.76,.16,.5,.08,.52,.59,.33],
[.08,.2,.26,.08,.72,.21,.62,.09,.46,.55,.23],
[.08,.44,.2,.63,.29,.22,.67,.08,.39,.59,.31],
[.08,.25,.19,.2,.14,.24,.64,.08,.41,.6,.25],
[.08,.07,.94,.02,.03,1,.37,.11,.52,.51,.27],
[.11,.03,.72,.02,.05,1,.24,.1,.51,.48,.29],
[.17,.03,.47,.02,.08,.97,.16,.11,.52,.38,.3]
];
const cellTicks = [0, 20000, 40000, 60000];
const legendTicks = [0, 0.2, 0.4, 0.6, 0.8, 1];

// brace groups: first row, last row, where the tip points
const braceGroups = [
  {from: 0, to: 2, tip: 761},
  {from: 7, to: 8, tip: 920},
  {from: 9, to: 11, tip: 978},
  {from: 13, to: 17, tip: 1097},
  {from: 18, to: 19, tip: 1180},
  {from: 22, to: 24, tip: 1292}
];
const annotations = [
  ["Effector or transitional", 749],["memory activated", 768],["Naive activated", 809],["T-cell stem memory", 832],["Naive", 853],["Central memory", 874],
  ["Circulating follicular helper", 914],["T cells activated", 932],["Effector memory activated", 978],["Effector memory CD57 PD1 CXCR5", 1028],["Effector memory PD1 th1/th17", 1097],
  ["Effector memory CD27", 1175],["Central memory CCR6", 1213],["Effector memory", 1243],["Effector memory CD57 PD1", 1290]
];

const width = 713, height = 1475;
const svg = d3.select("body").append("svg").attr("width", width).attr("height", height);
const dotFormat = d => String(d).replace(".", "·");

/*
  panel A
*/
const x = d3.scaleLinear().domain([-4.64, 12.5]).range([58, 512]);
const y = d3.scaleLinear().domain([-8, 4]).range([589, 155.5]);
const plotTop = 43, plotBottom = 611;

svg.append("text").attr("x", 1).attr("y", 16).attr("font-size", 17).text("A");

const grid = svg.append("g").attr("stroke", "#e5e5e5").attr("stroke-width", 2);
grid.selectAll(".gx").data(xTicks).join("line").attr("class", "gx").attr("x1", d => x(d)).attr("x2", d => x(d)).attr("y1", plotTop).attr("y2", plotBottom);
grid.selectAll(".gy").data(yTicks).join("line").attr("class", "gy").attr("x1", x.range()[0]).attr("x2", x.range()[1]).attr("y1", d => y(d)).attr("y2", d => y(d));

const points = drawOrder.flatMap(id =>
  clusterPoints[id - 1].flatMap(row => row.slice(1).map(px => ({id, u1: px, u2: row[0]}))));
svg.append("g").selectAll("circle").data(points).join("circle")
  .attr("cx", d => x(d.u1)).attr("cy", d => y(d.u2)).attr("r", 2.4)
  .attr("fill", d => clusterColors[d.id - 1]).attr("fill-opacity", 0.92);

function styleAxis(g, size) {
  g.selectAll("path,line").attr("stroke", "#333").attr("stroke-width", 1.4);
  g.selectAll("text").attr("font-size", size).attr("font-family", "Lato").attr("fill", "#333");
}
svg.append("g").attr("transform", `translate(0,${plotBottom})`)
  .call(d3.axisBottom(x).tickValues(xTicks).tickSize(8).tickSizeOuter(0).tickPadding(3))
  .call(g => styleAxis(g, 14));
svg.append("g").attr("transform", "translate(58,0)")
  .call(d3.axisLeft(y.copy().domain([y.invert(plotBottom), y.invert(plotTop)]).range([plotBottom, plotTop])).tickValues(yTicks).tickFormat(d => String(d)).tickSize(8).tickSizeOuter(0).tickPadding(4))
  .call(g => styleAxis(g, 14));

svg.append("text").attr("x", 282).attr("y", 659).attr("text-anchor", "middle").attr("font-size", 14).text("UMAP dimension 1");
svg.append("text").attr("transform", "translate(15,329) rotate(-90)").attr("text-anchor", "middle").attr("font-size", 14).text("UMAP dimension 2");

// legend
svg.append("text").attr("x", 559).attr("y", 158).attr("font-size", 14).attr("font-weight", 700).text("meta25");
const legendRow = d3.scaleLinear().domain([0, 12]).range([180, 443]);
const legendItem = svg.append("g").selectAll("g").data(clusterIds).join("g")
  .attr("transform", d => `translate(${d <= 13 ? 566 : 625},${legendRow(d <= 13 ? d - 1 : d - 14)})`);
legendItem.append("ellipse").attr("rx", 6.2).attr("ry", 7).attr("fill", d => clusterColors[d - 1]);
legendItem.append("text").attr("x", 12).attr("y", 5).attr("font-size", 14).text(d => d);

/*
  panel B
*/
svg.append("text").attr("x", 2).attr("y", 700).attr("font-size", 18).text("B");

const col = d3.scaleBand().domain(markers).range([22, 331.5]).paddingInner(0.035);
const row = d3.scaleBand().domain(d3.range(25)).range([732, 1322.7]).paddingInner(0.04);
const heat = d3.scaleSequential(t => d3.interpolateRdYlBu(1 - t)).domain([0, 1]);

svg.append("g").selectAll("rect").data(rowClusters).join("rect")
  .attr("x", 0).attr("y", (d, i) => row(i)).attr("width", 18).attr("height", row.bandwidth())
  .attr("fill", d => clusterColors[d - 1]);

svg.append("g").attr("fill-opacity", 0.93).selectAll("g").data(expression).join("g")
  .selectAll("rect").data((d, i) => d.map((v, j) => ({v, i, j}))).join("rect")
  .attr("x", d => col(markers[d.j])).attr("y", d => row(d.i))
  .attr("width", col.bandwidth()).attr("height", row.bandwidth())
  .attr("fill", d => heat(d.v));

svg.append("text").attr("transform", "translate(14,1328) rotate(-90)").attr("text-anchor", "end").attr("font-size", 14).text("Cluster identification");
svg.append("g").selectAll("text").data(markers).join("text")
  .attr("transform", d => `translate(${col(d) + col.bandwidth() / 2 + 6.5},1328) rotate(-90)`)
  .attr("text-anchor", "end").attr("font-size", 14).text(d => d);

// bars
const cells = d3.scaleLinear().domain([0, 60000]).range([336, 394]);
svg.append("g").selectAll("rect").data(rowCells).join("rect")
  .attr("x", cells(0)).attr("y", (d, i) => row(i) + 2.8)
  .attr("width", d => cells(d) - cells(0)).attr("height", row.bandwidth() - 5.6)
  .attr("fill", "#b2bac2");

svg.append("g").attr("transform", "translate(0,1323)")
  .call(d3.axisBottom(cells).tickValues(cellTicks).tickFormat(d => d).tickSize(7).tickSizeOuter(0))
  .call(g => {
    g.select(".domain").attr("d", `M${cells(0)},0H411`);
    styleAxis(g, 14);
    g.selectAll("text").attr("transform", "rotate(-90)").attr("text-anchor", "end").attr("x", -13).attr("y", 0).attr("dy", "0.35em");
  });
svg.append("text").attr("x", 374).attr("y", 1398).attr("text-anchor", "middle").attr("font-size", 14).text("Number of");
svg.append("text").attr("x", 374).attr("y", 1417).attr("text-anchor", "middle").attr("font-size", 14).text("cells");

// percentages and braces
svg.append("g").selectAll("text").data(rowClusters).join("text")
  .attr("x", 415).attr("y", (d, i) => row(i) + row.bandwidth() / 2 + 5)
  .attr("font-size", 14).text((d, i) => `${rowPercents[i]} (${d})`);

const bracePath = b => {
  const top = row(b.from) + 1, bottom = row(b.to) + row.bandwidth() - 5;
  const t = b.tip;
  return `M485,${top}C489,${top} 490,${top + 2} 490,${top + 6}L490,${t - 6}C490,${t - 2} 492,${t} 497,${t}C492,${t} 490,${t + 2} 490,${t + 6}L490,${bottom - 6}C490,${bottom - 2} 489,${bottom} 485,${bottom}`;
};
svg.append("g").selectAll("path").data(braceGroups).join("path")
  .attr("d", bracePath).attr("fill", "none").attr("stroke", "#333").attr("stroke-width", 1.3);

svg.append("g").selectAll("text").data(annotations).join("text")
  .attr("x", 505).attr("y", d => d[1] + 5).attr("font-size", 13.2).text(d => d[0]);

// colour legend
const defs = svg.append("defs");
const gradient = defs.append("linearGradient").attr("id", "heatramp").attr("x1", 0).attr("x2", 0).attr("y1", 1).attr("y2", 0);
gradient.selectAll("stop").data(d3.range(0, 1.001, 0.05)).join("stop")
  .attr("offset", d => d).attr("stop-color", d => heat(d));
const ramp = d3.scaleLinear().domain([0, 1]).range([1468, 1358]);
svg.append("rect").attr("x", 645).attr("y", 1356).attr("width", 16).attr("height", 116)
  .attr("fill", "url(#heatramp)").attr("stroke", "#444").attr("stroke-width", 1);
svg.append("g").attr("transform", "translate(661,0)")
  .call(d3.axisRight(ramp).tickValues(legendTicks).tickFormat(dotFormat).tickSize(5).tickSizeOuter(0).tickPadding(2))
  .call(g => { g.select(".domain").remove(); styleAxis(g, 13.5); });
svg.append("text").attr("x", 646).attr("y", 1326).attr("font-size", 13).attr("font-weight", 700).text("Median");
svg.append("text").attr("x", 646).attr("y", 1345).attr("font-size", 13).attr("font-weight", 700).text("expression");
</script>
</body>
</html>
